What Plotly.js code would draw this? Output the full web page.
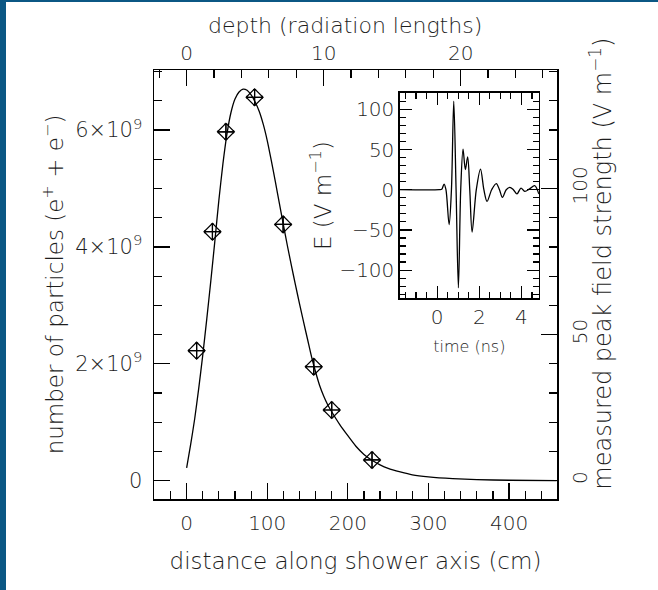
<!DOCTYPE html>
<html>
<head>
<meta charset="utf-8">
<script src="https://cdn.plot.ly/plotly-3.0.1.min.js"></script>
<style>
  html, body { margin: 0; padding: 0; background: #ffffff; }
  #wrap { position: relative; width: 658px; height: 590px; overflow: hidden; }
  #chart { width: 658px; height: 590px; }
  .edgeL { position: absolute; left: 0; top: 0; width: 6px; height: 590px; background: #0b5784; }
  .edgeT { position: absolute; left: 0; top: 0; width: 658px; height: 2px; background: #0b5784; }
</style>
</head>
<body>
<div id="wrap">
  <div id="chart"></div>
  <div class="edgeL"></div>
  <div class="edgeT"></div>
</div>
<script>
// ---- shower profile curve (distance in cm, number of particles) ----
const profileDistance = [0, 5, 10, 15, 20, 25, 30, 35, 40, 45, 50, 55, 60, 65, 70, 75, 80, 85, 90, 95, 100, 105, 110, 115, 120, 125, 130, 135, 140, 145, 150, 155, 160, 165, 170, 175, 180, 190, 200, 210, 220, 230, 240, 250, 265, 280, 300, 330, 360, 400, 459];
const profileParticles = [0.22e9, 0.62e9, 1.06e9, 1.58e9, 2.15e9, 2.77e9, 3.42e9, 4.10e9, 4.80e9, 5.42e9, 5.93e9, 6.30e9, 6.53e9, 6.65e9, 6.70e9, 6.68e9, 6.60e9, 6.48e9, 6.32e9, 6.10e9, 5.82e9, 5.48e9, 5.12e9, 4.75e9, 4.38e9, 4.02e9, 3.68e9, 3.35e9, 3.03e9, 2.72e9, 2.42e9, 2.12e9, 1.86e9, 1.63e9, 1.45e9, 1.30e9, 1.18e9, 0.96e9, 0.77e9, 0.59e9, 0.45e9, 0.35e9, 0.27e9, 0.21e9, 0.15e9, 0.10e9, 0.065e9, 0.035e9, 0.018e9, 0.008e9, 0.002e9];

// ---- measured peak field strength points (V/m) ----
const pointDistance = [12.4, 32.0, 48.7, 84.3, 119.7, 157.7, 180.0, 230.0];
const pointField    = [44.5, 85.2, 119.4, 131.2, 87.7, 39.0, 24.2, 7.1];

// ---- inset pulse ----
const pulseTime  = [-1.77, 0.10, 0.22, 0.33, 0.42, 0.57, 0.68, 0.79, 0.90, 1.01, 1.12, 1.23, 1.34, 1.45, 1.55, 1.66, 1.86, 2.06, 2.22, 2.37, 2.59, 2.81, 2.96, 3.10, 3.28, 3.45, 3.62, 3.79, 3.98, 4.16, 4.39, 4.63, 4.83];
const pulseField = [0, 0, 0.5, 7.0, 0, -43.5, 0, 110, 0, -122, 0, 50.6, 25.0, 40.7, 0, -52.6, 0, 25.7, 0, -14.5, 0, 7.5, 0, -9.5, 0, 3.0, 0, -5.3, 2.0, -2.0, 1.0, 5.0, -5.3];

// ---- tick labels and titles ----
const particleTickVals = [0, 2e9, 4e9, 6e9];
const particleTickText = ['0', '2×10<sup>9</sup>', '4×10<sup>9</sup>', '6×10<sup>9</sup>'];
const distanceTickVals = [0, 100, 200, 300, 400];
const depthTickVals = [0, 10, 20];
const depthTickText = ['0', '10', '20'];
const fieldTickVals = [0, 50, 100];
const timeTickVals = [0, 2, 4];
const pulseTickVals = [-100, -50, 0, 50, 100];
const depthTitle = 'depth (radiation lengths)';
const fieldTitle = 'measured peak field strength (V m<sup>−1</sup>)';

const radiationLength = 17.0;          // cm per radiation length (top axis)
const fieldPerParticle = 20 / 1e9;     // V/m per particle (right axis scale)
const xRange = [-40.5, 459.5];
const yRange = [-0.313e9, 7.027e9];

const FONT = 'DejaVu Sans, Liberation Sans, sans-serif';
const TXT = '#1e1e1e';
const TICK = 20, TITLE = 23;

const traces = [
  {
    x: profileDistance, y: profileParticles, xaxis: 'x', yaxis: 'y',
    type: 'scatter', mode: 'lines',
    line: {color: '#000', width: 1.3, shape: 'spline', smoothing: 0.6},
    showlegend: false
  },
  {
    x: pointDistance, y: pointField, xaxis: 'x', yaxis: 'y2',
    type: 'scatter', mode: 'markers',
    marker: {symbol: 'diamond-cross-open', size: 13, color: '#000', line: {color: '#000', width: 1.2}},
    error_y: {type: 'constant', value: 2.6, color: '#000', thickness: 1.2, width: 1.5},
    error_x: {type: 'constant', value: 9.5, color: '#000', thickness: 1.2, width: 1.5},
    showlegend: false
  },
  {
    x: pulseTime, y: pulseField, xaxis: 'x3', yaxis: 'y3',
    type: 'scatter', mode: 'lines',
    line: {color: '#000', width: 1.3, shape: 'spline', smoothing: 0.9},
    showlegend: false
  },
  // empty trace that registers the top (radiation-length) axis so Plotly draws it
  {x: [], y: [], xaxis: 'x2', yaxis: 'y', type: 'scatter', mode: 'lines', showlegend: false, hoverinfo: 'skip'}
];

const txtFont = (s) => ({family: FONT, size: s, color: TXT, weight: 200});
const axisCommon = {
  showline: true, linecolor: '#000', linewidth: 1.5,
  showgrid: false, zeroline: false,
  ticks: 'inside', tickcolor: '#000', tickwidth: 1.2,
  ticklabeloverflow: 'allow',
  tickfont: txtFont(TICK)
};
const minorTicks = (d, len) => ({tickmode: 'linear', tick0: 0, dtick: d, ticklen: len, tickcolor: '#000', tickwidth: 1.2, ticks: 'inside'});

const layout = {
  width: 658, height: 590,
  margin: {l: 154, r: 101, t: 70, b: 91},
  paper_bgcolor: '#ffffff', plot_bgcolor: 'rgba(0,0,0,0)',
  showlegend: false,
  font: txtFont(TICK),
  xaxis: Object.assign({}, axisCommon, {
    domain: [0, 1], anchor: 'y', range: xRange,
    tickmode: 'array', tickvals: distanceTickVals, ticklen: 16,
    minor: minorTicks(20, 8),
    ticklabelstandoff: 5,
    title: {text: 'distance along shower axis (cm)', font: txtFont(TITLE), standoff: 19}
  }),
  xaxis2: Object.assign({}, axisCommon, {
    overlaying: 'x', side: 'top', anchor: 'y',
    range: [xRange[0] / radiationLength, xRange[1] / radiationLength],
    tickmode: 'array', tickvals: depthTickVals, ticktext: depthTickText, ticklen: 16,
    showticklabels: true, tickangle: 0,
    minor: minorTicks(2, 8),
    ticklabelstandoff: 1
  }),
  yaxis: Object.assign({}, axisCommon, {
    domain: [0, 1], anchor: 'x', range: yRange,
    tickmode: 'array', tickvals: particleTickVals, ticktext: particleTickText, ticklen: 16,
    tickfont: txtFont(21),
    minor: minorTicks(0.5e9, 8),
    ticklabelstandoff: 6,
    title: {text: 'number of particles (e<sup>+</sup> + e<sup>−</sup>)', font: txtFont(TITLE), standoff: 5}
  }),
  yaxis2: Object.assign({}, axisCommon, {
    overlaying: 'y', side: 'right', anchor: 'x',
    range: [yRange[0] * fieldPerParticle, yRange[1] * fieldPerParticle],
    tickmode: 'array', tickvals: fieldTickVals, ticklen: 16, tickangle: -90,
    minor: minorTicks(10, 8),
    ticklabelstandoff: 4
  }),
  xaxis3: Object.assign({}, axisCommon, {
    domain: [0.610, 0.955], anchor: 'y3', range: [-1.77, 4.83],
    tickmode: 'array', tickvals: timeTickVals, ticklen: 12, mirror: 'ticks',
    minor: minorTicks(0.5, 6),
    ticklabelstandoff: 0,
    title: {text: 'time (ns)', font: txtFont(16), standoff: 13}
  }),
  yaxis3: Object.assign({}, axisCommon, {
    domain: [0.4685, 0.9464], anchor: 'x3', range: [-134.7, 120.3],
    tickmode: 'array', tickvals: pulseTickVals, ticklen: 12, mirror: 'ticks',
    minor: minorTicks(10, 6),
    ticklabelstandoff: 0,
    title: {text: 'E (V m<sup>−1</sup>)', font: txtFont(23), standoff: 1}
  }),
  annotations: [
    {text: depthTitle, xref: 'paper', yref: 'paper', x: 0.4736, y: 1.1026,
     xanchor: 'center', yanchor: 'middle', showarrow: false, font: txtFont(22)},
    {text: fieldTitle, xref: 'paper', yref: 'paper', x: 1.1084, y: 0.5478, textangle: -90,
     xanchor: 'center', yanchor: 'middle', showarrow: false, font: txtFont(24)}
  ]
};

Plotly.newPlot('chart', traces, layout, {staticPlot: true, displayModeBar: false});
</script>
</body>
</html>
